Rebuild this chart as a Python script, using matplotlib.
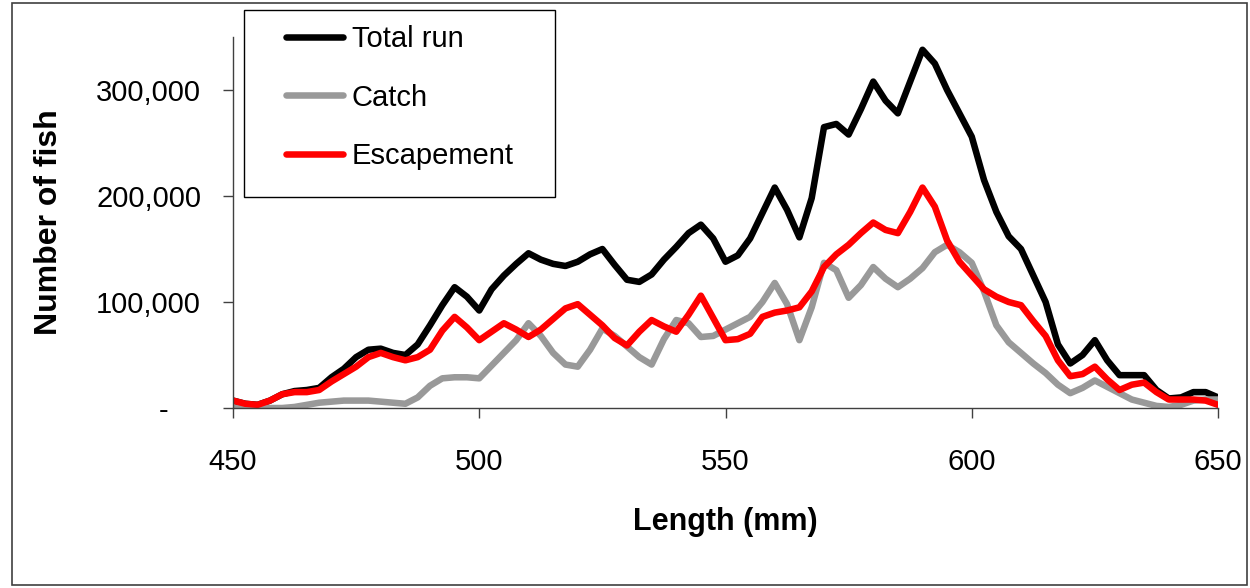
import matplotlib.pyplot as plt
from matplotlib.patches import Rectangle
import numpy as np

plt.rcParams['font.family'] = ['Liberation Sans', 'DejaVu Sans']

# fish length (mm), read every 2.5 mm off the chart
length = np.arange(450, 650.1, 2.5)

# numbers of fish, in thousands
total_run = [7, 4, 3, 7, 13, 16, 17, 19, 29, 37, 48, 55, 56, 52, 50, 60, 78, 97, 114, 105,
             92, 112, 125, 136, 146, 140, 136, 134, 138, 145, 150, 135, 121, 119, 126, 140, 152, 165, 173, 160,
             138, 144, 160, 184, 208, 187, 161, 198, 265, 268, 258, 282, 308, 290, 278, 308, 338, 325, 300, 278,
             256, 215, 185, 162, 150, 125, 100, 60, 42, 50, 64, 45, 31, 31, 31, 17, 9, 10, 15, 15, 10]
catch = [0, 0, 0, 0, 0, 1, 3, 5, 6, 7, 7, 7, 6, 5, 4, 10, 21, 28, 29, 29,
         28, 40, 52, 64, 80, 68, 52, 41, 39, 55, 75, 68, 58, 48, 41, 65, 83, 80, 67, 68,
         74, 80, 86, 100, 118, 98, 64, 95, 137, 130, 104, 116, 133, 122, 114, 122, 132, 147, 154, 147,
         137, 110, 78, 62, 52, 42, 33, 22, 14, 19, 26, 20, 14, 8, 5, 2, 1, 3, 7, 8, 8]
escapement = [7, 4, 3, 7, 13, 15, 15, 17, 25, 32, 39, 48, 52, 48, 45, 48, 55, 73, 86, 76,
              64, 72, 80, 74, 67, 74, 84, 94, 98, 88, 78, 66, 59, 72, 83, 77, 72, 88, 106, 85,
              64, 65, 70, 86, 90, 92, 95, 110, 133, 145, 154, 165, 175, 168, 165, 185, 208, 190, 158, 138,
              125, 112, 105, 100, 97, 82, 68, 45, 30, 32, 39, 27, 17, 22, 24, 15, 8, 8, 8, 7, 3]

series_names = ['Total run', 'Catch', 'Escapement']
series_colors = ['black', '#999999', '#ff0000']

y_ticks = [0, 100000, 200000, 300000]
y_ticklabels = ['-    ', '100,000', '200,000', '300,000']
x_ticks = [450, 500, 550, 600, 650]

fig = plt.figure(figsize=(12.5, 5.88), dpi=100)
ax = fig.add_axes([0.1864, 0.3061, 0.788, 0.6309])

for vals, name, col in zip([total_run, catch, escapement], series_names, series_colors):
    ax.plot(length, np.array(vals) * 1000, color=col, lw=4.7, label=name,
            solid_joinstyle='round', solid_capstyle='round')

ax.set_xlim(450, 650)
ax.set_ylim(0, 350000)
ax.set_xticks(x_ticks)
ax.set_yticks(y_ticks)
ax.set_yticklabels(y_ticklabels)
ax.tick_params(axis='x', direction='out', length=7, width=1, color='#404040', pad=22, labelsize=21)
ax.tick_params(axis='y', direction='out', length=7, width=1, color='#404040', pad=16, labelsize=21)

for s in ['top', 'right']:
    ax.spines[s].set_visible(False)
for s in ['left', 'bottom']:
    ax.spines[s].set_color('#404040')
    ax.spines[s].set_linewidth(1)

ax.set_xlabel('Length (mm)', fontsize=22, fontweight='bold', labelpad=22)
ax.set_ylabel('Number of fish', fontsize=23, fontweight='bold', labelpad=23)

leg = fig.legend(loc='upper left', bbox_to_anchor=(286 / 1250, 1 - 25 / 588),
                 frameon=False, fontsize=21, handlelength=1.95, handletextpad=0.3,
                 labelspacing=1.05, borderaxespad=0, borderpad=0)

# legend box and outer chart border
fig.patches.append(Rectangle((244 / 1250, 1 - 197 / 588), 311 / 1250, 187 / 588,
                             transform=fig.transFigure, fill=False, edgecolor='black', lw=1))
fig.patches.append(Rectangle((12 / 1250, 3 / 588), 1235 / 1250, 582 / 588,
                             transform=fig.transFigure, fill=False, edgecolor='#404040', lw=1.2))

fig.savefig('out.png', dpi=100)
